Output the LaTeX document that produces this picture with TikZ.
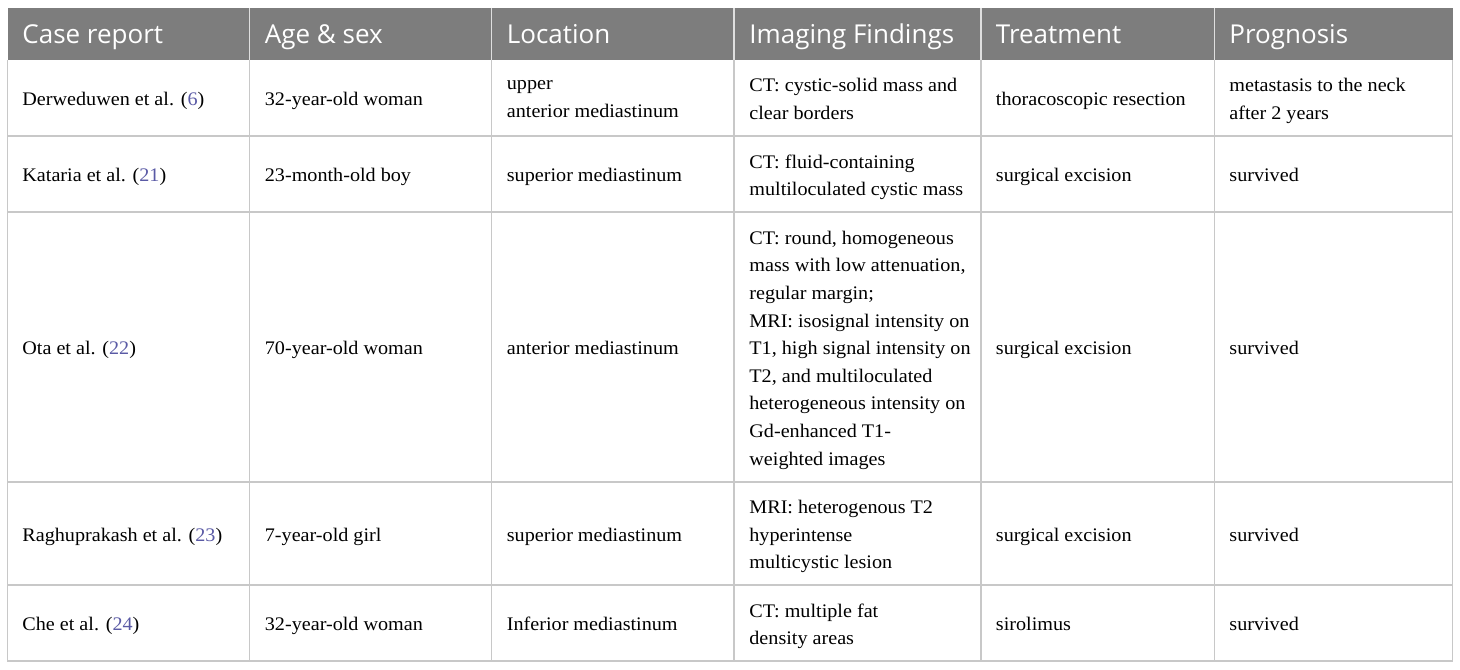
\documentclass[tikz,border=0pt]{standalone}
\usepackage{fontspec}
\setmainfont{Liberation Serif}[FakeStretch=1.05]
\newfontfamily\headfont{Open Sans}
\definecolor{headgrey}{RGB}{125,125,125}
\definecolor{rulegrey}{RGB}{200,200,200}
\definecolor{refblue}{RGB}{90,90,165}
\newcommand{\rf}[1]{(\textcolor{refblue}{#1})}
\tikzstyle{head} = [anchor=west,inner sep=0pt,text=white,text height=9.3pt,text depth=0pt,font=\headfont\fontsize{13}{16}\selectfont]
\tikzstyle{cell} = [anchor=west,inner sep=0pt,align=left,font=\fontsize{9.6}{13.8}\selectfont,execute at begin node=\strut,execute at end node=\strut,yshift=-1pt]
\tikzstyle{lines} = [anchor=west,inner sep=0pt,align=left,font=\fontsize{9.6}{13.8}\selectfont,execute at begin node=\strut,execute at end node=\strut,yshift=-2.6pt]
\tikzstyle{rule} = [draw=rulegrey,line width=0.6pt]
\tikzstyle{headrule} = [draw=white!75!headgrey,line width=0.6pt]

\begin{document}
\begin{tikzpicture}[x=0.5pt,y=-0.5pt]
				\useasboundingbox (0,0) rectangle (1460,669);
				\fill [headgrey] (7.5,7.7) rectangle (1452.5,60);
				\draw [headrule] (249.5,7.7) -- (249.5,60);
				\draw [headrule] (491.5,7.7) -- (491.5,60);
				\draw [headrule] (734,7.7) -- (734,60);
				\draw [headrule] (981,7.7) -- (981,60);
				\draw [headrule] (1214.5,7.7) -- (1214.5,60);
				\draw [rule] (7.5,60) -- (7.5,661) -- (1452.5,661) -- (1452.5,60);
				\draw [rule] (249.5,60) -- (249.5,661);
				\draw [rule] (491.5,60) -- (491.5,661);
				\draw [rule] (734,60) -- (734,661);
				\draw [rule] (981,60) -- (981,661);
				\draw [rule] (1214.5,60) -- (1214.5,661);
				\draw [rule] (7.5,136) -- (1452.5,136);
				\draw [rule] (7.5,212) -- (1452.5,212);
				\draw [rule] (7.5,482) -- (1452.5,482);
				\draw [rule] (7.5,585) -- (1452.5,585);

				\node (hcase) [head] at (22,34) {Case report};
				\node (hage) [head] at (264.5,34) {Age \& sex};
				\node (hloc) [head] at (506.5,34) {Location};
				\node (himg) [head] at (749,34) {Imaging Findings};
				\node (htrt) [head] at (995.5,34) {Treatment};
				\node (hprog) [head] at (1229,34) {Prognosis};

				\node (case1) [cell] at (22,98) {Derweduwen et al. \rf{6}};
				\node (age1) [cell] at (264.5,98) {32-year-old woman};
				\node (loc1) [lines] at (506.5,98) {upper\\anterior mediastinum};
				\node (img1) [lines] at (749,98) {CT: cystic-solid mass and\\clear borders};
				\node (trt1) [cell] at (995.5,98) {thoracoscopic resection};
				\node (prog1) [lines] at (1229,98) {metastasis to the neck\\after 2 years};

				\node (case2) [cell] at (22,174) {Kataria et al. \rf{21}};
				\node (age2) [cell] at (264.5,174) {23-month-old boy};
				\node (loc2) [cell] at (506.5,174) {superior mediastinum};
				\node (img2) [lines] at (749,174) {CT: fluid-containing\\multiloculated cystic mass};
				\node (trt2) [cell] at (995.5,174) {surgical excision};
				\node (prog2) [cell] at (1229,174) {survived};

				\node (case3) [cell] at (22,347) {Ota et al. \rf{22}};
				\node (age3) [cell] at (264.5,347) {70-year-old woman};
				\node (loc3) [cell] at (506.5,347) {anterior mediastinum};
				\node (img3) [lines] at (749,347) {CT: round, homogeneous\\mass with low attenuation,\\regular margin;\\MRI: isosignal intensity on\\T1, high signal intensity on\\T2, and multiloculated\\heterogeneous intensity on\\Gd-enhanced T1-\\weighted images};
				\node (trt3) [cell] at (995.5,347) {surgical excision};
				\node (prog3) [cell] at (1229,347) {survived};

				\node (case4) [cell] at (22,533.5) {Raghuprakash et al. \rf{23}};
				\node (age4) [cell] at (264.5,533.5) {7-year-old girl};
				\node (loc4) [cell] at (506.5,533.5) {superior mediastinum};
				\node (img4) [lines] at (749,533.5) {MRI: heterogenous T2\\hyperintense\\multicystic lesion};
				\node (trt4) [cell] at (995.5,533.5) {surgical excision};
				\node (prog4) [cell] at (1229,533.5) {survived};

				\node (case5) [cell] at (22,623) {Che et al. \rf{24}};
				\node (age5) [cell] at (264.5,623) {32-year-old woman};
				\node (loc5) [cell] at (506.5,623) {Inferior mediastinum};
				\node (img5) [lines] at (749,623) {CT: multiple fat\\density areas};
				\node (trt5) [cell] at (995.5,623) {sirolimus};
				\node (prog5) [cell] at (1229,623) {survived};
			\end{tikzpicture}
\end{document}
